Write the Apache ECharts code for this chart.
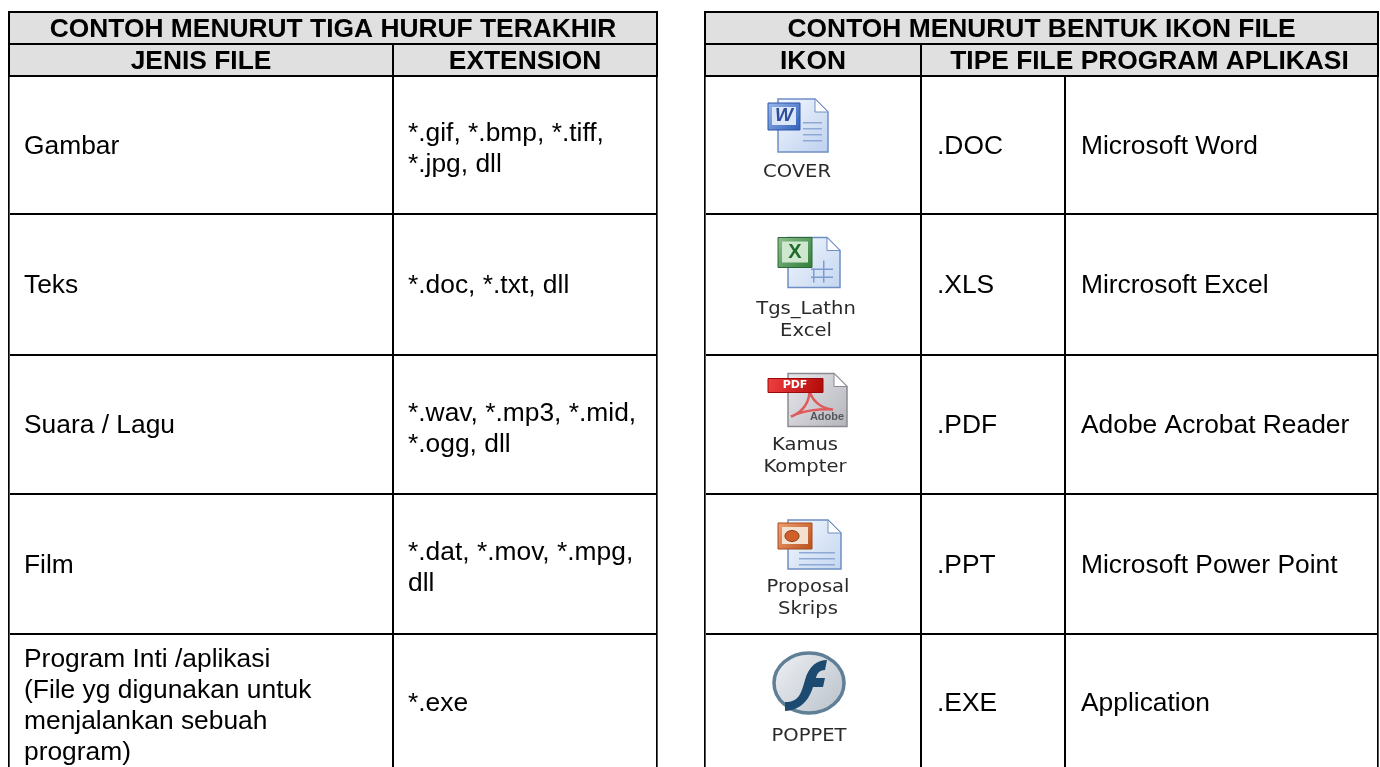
<!DOCTYPE html>
<html>
<head>
    <meta charset="utf-8">
    <title>Contoh file</title>
    <script src="https://cdn.jsdelivr.net/npm/echarts@6/dist/echarts.min.js"></script>
    <style>
        html, body { margin: 0; padding: 0; background: #fff; }
    </style>
</head>
<body>
<div id="main" style="width: 1380px;height:767px;"></div>
<script type="text/javascript">
    // table content
    var leftTitle = 'CONTOH MENURUT TIGA HURUF TERAKHIR';
    var leftHeaders = ['JENIS FILE', 'EXTENSION'];
    var fileKinds = [
        'Gambar',
        'Teks',
        'Suara / Lagu',
        'Film',
        'Program Inti /aplikasi\n(File yg digunakan untuk\nmenjalankan sebuah\nprogram)'
    ];
    var fileExtensions = [
        '*.gif, *.bmp, *.tiff,\n*.jpg, dll',
        '*.doc, *.txt, dll',
        '*.wav, *.mp3, *.mid,\n*.ogg, dll',
        '*.dat, *.mov, *.mpg,\ndll',
        '*.exe'
    ];

    var rightTitle = 'CONTOH MENURUT BENTUK IKON FILE';
    var rightHeaders = ['IKON', 'TIPE FILE PROGRAM APLIKASI'];
    var iconNames = ['COVER', 'Tgs_Lathn\nExcel', 'Kamus\nKompter', 'Proposal\nSkrips', 'POPPET'];
    var programExts = ['.DOC', '.XLS', '.PDF', '.PPT', '.EXE'];
    var programNames = ['Microsoft Word', 'Mircrosoft Excel', 'Adobe Acrobat Reader', 'Microsoft Power Point', 'Application'];

    // column and row sizes, px
    var leftCols = [384, 264];
    var rightCols = [216, 144, 313];
    var rowSizes = [32, 32, 138, 141, 139, 140, 136];

    var FONT = '"Liberation Sans", Arial, sans-serif';
    var ICON_FONT = '"DejaVu Sans", sans-serif';
    var HEAD_BG = '#e0e0e0';
    // the source text is a bit wider than its height would give
    var TEXT_STRETCH = 1.055;

    function axisData(sizes, prefix) {
        return sizes.map(function (s, i) {
            return {value: prefix + i, size: s};
        });
    }
    function sum(list) {
        return list.reduce(function (a, b) { return a + b; }, 0);
    }

    function tableMatrix(left, cols, cells) {
        return {
            left: left, top: 12, width: sum(cols), height: sum(rowSizes),
            x: {show: false, data: axisData(cols, 'c')},
            y: {show: false, data: axisData(rowSizes, 'r')},
            body: {
                itemStyle: {color: '#fff', borderColor: '#000', borderWidth: 2},
                data: cells
            }
        };
    }
    function headCell(coord) {
        return {coord: coord, mergeCells: true, itemStyle: {color: HEAD_BG}};
    }

    var leftCells = [headCell([[0, 1], 0]), headCell([0, 1]), headCell([1, 1])];
    var rightCells = [headCell([[0, 2], 0]), headCell([0, 1]), headCell([[1, 2], 1])];

    // texts: from, to = columns, pad = left padding (no pad means centered bold header)
    var leftTexts = [
        {from: 0, to: 1, row: 0, text: leftTitle},
        {from: 0, to: 0, row: 1, text: leftHeaders[0]},
        {from: 1, to: 1, row: 1, text: leftHeaders[1]}
    ];
    fileKinds.forEach(function (t, i) {
        leftTexts.push({from: 0, to: 0, row: i + 2, text: t, pad: 15});
        leftTexts.push({from: 1, to: 1, row: i + 2, text: fileExtensions[i], pad: 15});
    });

    var rightTexts = [
        {from: 0, to: 2, row: 0, text: rightTitle},
        {from: 0, to: 0, row: 1, text: rightHeaders[0]},
        {from: 1, to: 2, row: 1, text: rightHeaders[1]}
    ];
    programExts.forEach(function (t, i) {
        rightTexts.push({from: 1, to: 1, row: i + 2, text: t, pad: 16});
        rightTexts.push({from: 2, to: 2, row: i + 2, text: programNames[i], pad: 16});
    });

    function textSeries(matrixIndex, texts) {
        return {
            type: 'custom',
            coordinateSystem: 'matrix',
            matrixIndex: matrixIndex,
            silent: true,
            z: 5,
            data: texts.map(function (t, i) { return [t.from, t.row, i]; }),
            renderItem: function (params, api) {
                var t = texts[api.value(2)];
                var a = api.layout([t.from, t.row]);
                var b = api.layout([t.to, t.row]);
                a = a.rect || a;
                b = b.rect || b;
                var head = t.pad === undefined;
                var shift = head ? 2 : (t.text.indexOf('\n') >= 0 ? 5 : 2);
                return {
                    type: 'text',
                    x: head ? (a.x + b.x + b.width) / 2 : a.x + t.pad,
                    y: a.y + a.height / 2 + shift,
                    scaleX: TEXT_STRETCH,
                    style: {
                        text: t.text,
                        fill: '#000',
                        font: (head ? 'bold ' : '') + '25px ' + FONT,
                        lineHeight: 31,
                        align: head ? 'center' : 'left',
                        verticalAlign: 'middle'
                    }
                };
            }
        };
    }

    // icons, drawn around the middle of their cell
    function grad(a, b) {
        return new echarts.graphic.LinearGradient(0, 0, 1, 1, [{offset: 0, color: a}, {offset: 1, color: b}]);
    }
    function rect(x, y, w, h, fill, stroke) {
        return {type: 'rect', shape: {x: x, y: y, width: w, height: h}, style: {fill: fill, stroke: stroke || null, lineWidth: stroke ? 1 : 0}};
    }
    function page(x, y, w, h, a, b, edge) {
        var f = 13;
        return [
            {type: 'polygon', shape: {points: [[x, y], [x + w - f, y], [x + w, y + f], [x + w, y + h], [x, y + h]]},
                style: {fill: grad(a, b), stroke: edge, lineWidth: 1.5}},
            {type: 'polygon', shape: {points: [[x + w - f, y], [x + w, y + f], [x + w - f, y + f]]},
                style: {fill: '#ffffff', stroke: edge, lineWidth: 1}}
        ];
    }
    function pageLines(x, y, w, n, step, color) {
        var out = [];
        for (var i = 0; i < n; i++) {
            out.push(rect(x, y + i * step, w, 1.5, color));
        }
        return out;
    }
    function caption(text, dx, dy) {
        return {
            type: 'text',
            x: dx, y: dy, scaleX: 1.15,
            style: {
                text: text, fill: '#2a2a2a', font: '17px ' + ICON_FONT,
                align: 'center', verticalAlign: 'middle', lineHeight: 22
            }
        };
    }

    var iconDrawers = [
        function (name) { // word
            return page(-35, -46, 50, 53, '#f4f8fe', '#bcd0ee', '#6f8fc4')
                .concat(pageLines(-10, -23, 19, 4, 6, '#8fa9d6'))
                .concat([
                    rect(-45, -42, 32, 27, grad('#9bb9ec', '#2f5eb8'), '#2c55a8'),
                    rect(-41, -38, 24, 18, '#dbe6f8'),
                    {type: 'text', style: {x: -29, y: -29, text: 'W', fill: '#2d4f9a', font: 'italic bold 19px ' + FONT, align: 'center', verticalAlign: 'middle'}},
                    caption(name, -16, 28)
                ]);
        },
        function (name) { // excel
            return page(-25, -47, 52, 50, '#f2f7fe', '#c3d6f0', '#6f8fc4')
                .concat([rect(10, -24, 1.5, 22, '#7d9bd0'), rect(-2, -16, 22, 1.5, '#7d9bd0'), rect(-2, -8, 22, 1.5, '#7d9bd0'), rect(0, -16, 1.5, 14, '#7d9bd0')])
                .concat([
                    rect(-35, -47, 34, 30, grad('#8fc08f', '#2e7d3a'), '#2a6a30'),
                    rect(-31, -43, 26, 21, '#cfe6cf'),
                    {type: 'text', style: {x: -18, y: -32, text: 'X', fill: '#1f6b2c', font: 'bold 20px ' + FONT, align: 'center', verticalAlign: 'middle'}},
                    caption(name, -7, 36)
                ]);
        },
        function (name) { // pdf
            return page(-25, -51, 59, 53, '#e8e8ec', '#b4b4bc', '#8a8a92')
                .concat([
                    {type: 'path', shape: {pathData: 'M-22 -8 C-10 -12 -2 -24 -4 -36 C-2 -24 8 -16 20 -15 C8 -16 -10 -14 -22 -8 Z'},
                        style: {fill: 'none', stroke: '#e05a5a', lineWidth: 2.5}},
                    {type: 'text', style: {x: 14, y: -8, text: 'Adobe', fill: '#55555c', font: 'bold 11px ' + FONT, align: 'center', verticalAlign: 'middle'}},
                    rect(-45, -46, 55, 14, grad('#f04040', '#b00808'), '#9a0a0a'),
                    {type: 'text', style: {x: -18, y: -39, text: 'PDF', fill: '#fff', font: 'bold 11px ' + ICON_FONT, align: 'center', verticalAlign: 'middle'}},
                    caption(name, -8, 32)
                ]);
        },
        function (name) { // powerpoint
            return page(-25, -44, 53, 49, '#f4f8fe', '#c3d6f0', '#6f8fc4')
                .concat(pageLines(-14, -12, 36, 3, 6, '#8fa9d6'))
                .concat([
                    rect(-35, -41, 34, 26, grad('#f0a070', '#b8501c'), '#a84a1c'),
                    rect(-31, -37, 26, 17, '#f4e0d0'),
                    {type: 'ellipse', shape: {cx: -21, cy: -28, rx: 7, ry: 5.5}, style: {fill: '#d0602a', stroke: '#8a3a12', lineWidth: 1}},
                    caption(name, -5, 35)
                ]);
        },
        function (name) { // flash
            return [
                {type: 'ellipse', shape: {cx: -4, cy: -19, rx: 35, ry: 30},
                    style: {fill: grad('#f0f2f6', '#b8c0c8'), stroke: '#5f7f96', lineWidth: 3.5}},
                {type: 'path', shape: {pathData: 'M-28 0 C-14 0 -12 -8 -8 -22 C-4 -36 4 -42 14 -42 L12 -32 C6 -32 4 -28 3 -24 L12 -24 L10 -15 L0 -15 C-4 -2 -12 8 -28 9 Z'},
                    style: {fill: '#1d4a70'}},
                caption(name, -4, 35)
            ];
        }
    ];

    var myChart = echarts.init(document.getElementById('main'));
    myChart.setOption({
        animation: false,
        backgroundColor: '#fff',
        matrix: [
            tableMatrix(9, leftCols, leftCells),
            tableMatrix(705, rightCols, rightCells)
        ],
        series: [
            textSeries(0, leftTexts),
            textSeries(1, rightTexts),
            {
                type: 'custom',
                coordinateSystem: 'matrix',
                matrixIndex: 1,
                silent: true,
                data: iconNames.map(function (n, i) { return [0, i + 2, i]; }),
                renderItem: function (params, api) {
                    var c = api.coord([api.value(0), api.value(1)]);
                    var idx = api.value(2);
                    return {
                        type: 'group', x: c[0], y: c[1],
                        children: iconDrawers[idx](iconNames[idx])
                    };
                }
            }
        ]
    });
</script>
</body>
</html>
